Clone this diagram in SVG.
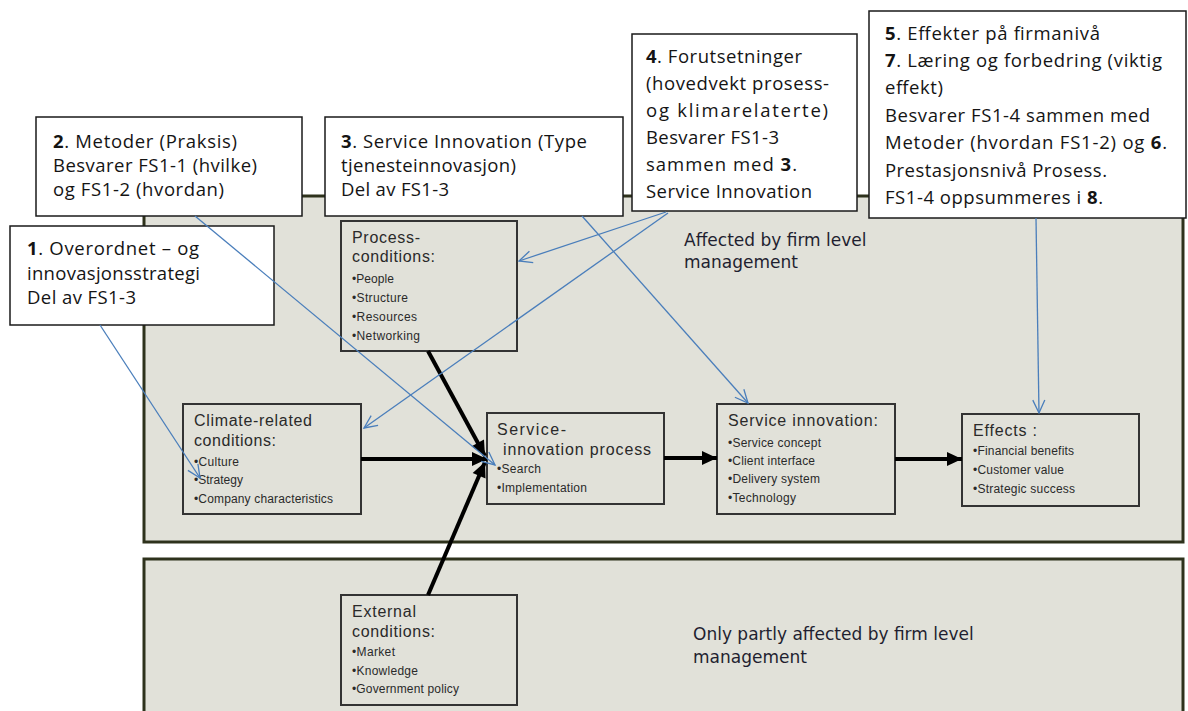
<svg xmlns="http://www.w3.org/2000/svg" width="1188" height="711" viewBox="0 0 1188 711">
  <style>
    .panel { fill: #e1e1d9; stroke: #2e321c; stroke-width: 3; }
    .node { fill: #e1e1d9; stroke: #333333; stroke-width: 2; }
    .callout { fill: #ffffff; stroke: #1a1a1a; stroke-width: 1.5; }
    .ct { font-family: "Open Sans", "Liberation Sans", sans-serif; font-size: 18.5px; fill: #141414; }
    .b { font-weight: bold; }
    .title { font-family: "Liberation Sans", Arial, sans-serif; font-size: 16px; fill: #2a2a2a; }
    .item { font-family: "Liberation Sans", Arial, sans-serif; font-size: 12px; fill: #2a2a2a; }
    .zone { font-family: "DejaVu Sans", Verdana, sans-serif; font-size: 17px; fill: #1f1f30; }
    .thick { stroke: #000000; stroke-width: 4; fill: none; }
    .thin { stroke: #4a7ebb; stroke-width: 1.3; fill: none; }
  </style>
  <defs>
    <marker id="solid" markerUnits="userSpaceOnUse" markerWidth="16" markerHeight="14" refX="15" refY="7" orient="auto" overflow="visible">
      <path d="M0,0 L15,7 L0,14 z" fill="#000000"/>
    </marker>
    <marker id="open" markerUnits="userSpaceOnUse" markerWidth="14" markerHeight="12" refX="13" refY="6" orient="auto" overflow="visible">
      <path d="M0,0 L13,6 L0,12" fill="none" stroke="#4a7ebb" stroke-width="1.3"/>
    </marker>
  </defs>

  <rect width="1188" height="711" fill="#ffffff"/>

  <!-- zones -->
  <g id="zone-firm">
    <rect class="panel" x="144" y="196" width="1039" height="346"/>
    <text class="zone" x="684" y="246">Affected by firm level</text>
    <text class="zone" x="684" y="268">management</text>
  </g>
  <g id="zone-partly">
    <rect class="panel" x="144" y="559" width="1039" height="170"/>
    <text class="zone" x="693" y="640">Only partly affected by firm level</text>
    <text class="zone" x="693" y="663">management</text>
  </g>

  <!-- model nodes -->
  <g id="process-conditions">
    <rect class="node" x="341" y="221" width="176" height="130"/>
    <text class="title" x="352" y="243" textLength="68" lengthAdjust="spacing">Process-</text>
    <text class="title" x="352" y="262" textLength="83" lengthAdjust="spacing">conditions:</text>
    <text class="item" x="352" y="283" textLength="42" lengthAdjust="spacing">•People</text>
    <text class="item" x="352" y="302" textLength="56" lengthAdjust="spacing">•Structure</text>
    <text class="item" x="352" y="321" textLength="65" lengthAdjust="spacing">•Resources</text>
    <text class="item" x="352" y="340" textLength="68" lengthAdjust="spacing">•Networking</text>
  </g>
  <g id="climate-conditions">
    <rect class="node" x="183" y="404" width="178" height="110"/>
    <text class="title" x="194" y="426" textLength="118" lengthAdjust="spacing">Climate-related</text>
    <text class="title" x="194" y="446" textLength="82" lengthAdjust="spacing">conditions:</text>
    <text class="item" x="194" y="466" textLength="45" lengthAdjust="spacing">•Culture</text>
    <text class="item" x="194" y="484" textLength="49" lengthAdjust="spacing">•Strategy</text>
    <text class="item" x="194" y="503" textLength="139" lengthAdjust="spacing">•Company characteristics</text>
  </g>
  <g id="innovation-process">
    <rect class="node" x="487" y="413" width="177" height="91"/>
    <text class="title" x="497" y="435" textLength="69" lengthAdjust="spacing">Service-</text>
    <text class="title" x="503" y="455" textLength="148" lengthAdjust="spacing">innovation process</text>
    <text class="item" x="497" y="473" textLength="44" lengthAdjust="spacing">•Search</text>
    <text class="item" x="497" y="492" textLength="90" lengthAdjust="spacing">•Implementation</text>
  </g>
  <g id="service-innovation">
    <rect class="node" x="717" y="404" width="178" height="110"/>
    <text class="title" x="728" y="426" textLength="150" lengthAdjust="spacing">Service innovation:</text>
    <text class="item" x="728" y="447" textLength="93" lengthAdjust="spacing">•Service concept</text>
    <text class="item" x="728" y="465" textLength="87" lengthAdjust="spacing">•Client interface</text>
    <text class="item" x="728" y="483" textLength="92" lengthAdjust="spacing">•Delivery system</text>
    <text class="item" x="728" y="502" textLength="68" lengthAdjust="spacing">•Technology</text>
  </g>
  <g id="effects">
    <rect class="node" x="962" y="414" width="177" height="92"/>
    <text class="title" x="973" y="436" textLength="64" lengthAdjust="spacing">Effects :</text>
    <text class="item" x="973" y="455" textLength="101" lengthAdjust="spacing">•Financial benefits</text>
    <text class="item" x="973" y="474" textLength="91" lengthAdjust="spacing">•Customer value</text>
    <text class="item" x="973" y="493" textLength="102" lengthAdjust="spacing">•Strategic success</text>
  </g>
  <g id="external-conditions">
    <rect class="node" x="341" y="595" width="176" height="110"/>
    <text class="title" x="352" y="617" textLength="64" lengthAdjust="spacing">External</text>
    <text class="title" x="352" y="637" textLength="83" lengthAdjust="spacing">conditions:</text>
    <text class="item" x="352" y="656" textLength="43" lengthAdjust="spacing">•Market</text>
    <text class="item" x="352" y="675" textLength="66" lengthAdjust="spacing">•Knowledge</text>
    <text class="item" x="352" y="693" textLength="107" lengthAdjust="spacing">•Government policy</text>
  </g>

  <!-- flow arrows of the model -->
  <g id="flow">
    <line class="thick" x1="361" y1="459" x2="487" y2="459" marker-end="url(#solid)"/>
    <line class="thick" x1="428" y1="351" x2="485" y2="456" marker-end="url(#solid)"/>
    <line class="thick" x1="428" y1="595" x2="485" y2="462" marker-end="url(#solid)"/>
    <line class="thick" x1="664" y1="458" x2="717" y2="458" marker-end="url(#solid)"/>
    <line class="thick" x1="895" y1="459" x2="924" y2="459" stroke-width="4.5"/>
    <line class="thick" x1="922" y1="459" x2="962" y2="459" stroke-width="3" marker-end="url(#solid)"/>
  </g>

  <!-- annotation callouts -->
  <g id="note-2">
    <rect class="callout" x="36" y="117" width="266" height="99"/>
    <text class="ct" x="53" y="148" textLength="184" lengthAdjust="spacing"><tspan class="b">2</tspan>. Metoder (Praksis)</text>
    <text class="ct" x="53" y="172" textLength="204" lengthAdjust="spacing">Besvarer FS1-1 (hvilke)</text>
    <text class="ct" x="53" y="196" textLength="171" lengthAdjust="spacing">og FS1-2 (hvordan)</text>
  </g>
  <g id="note-1">
    <rect class="callout" x="10" y="226" width="264" height="99"/>
    <text class="ct" x="27" y="255" textLength="172" lengthAdjust="spacing"><tspan class="b">1</tspan>. Overordnet – og</text>
    <text class="ct" x="27" y="280" textLength="173" lengthAdjust="spacing">innovasjonsstrategi</text>
    <text class="ct" x="27" y="304" textLength="109" lengthAdjust="spacing">Del av FS1-3</text>
  </g>
  <g id="note-3">
    <rect class="callout" x="325" y="117" width="298" height="99"/>
    <text class="ct" x="341" y="148" textLength="246" lengthAdjust="spacing"><tspan class="b">3</tspan>. Service Innovation (Type</text>
    <text class="ct" x="341" y="172" textLength="175" lengthAdjust="spacing">tjenesteinnovasjon)</text>
    <text class="ct" x="341" y="196" textLength="108" lengthAdjust="spacing">Del av FS1-3</text>
  </g>
  <g id="note-4">
    <rect class="callout" x="632" y="34" width="225" height="177"/>
    <text class="ct" x="646" y="63" textLength="156" lengthAdjust="spacing"><tspan class="b">4</tspan>. Forutsetninger</text>
    <text class="ct" x="646" y="90" textLength="183" lengthAdjust="spacing">(hovedvekt  prosess-</text>
    <text class="ct" x="646" y="117" textLength="182" lengthAdjust="spacing">og klimarelaterte)</text>
    <text class="ct" x="646" y="144" textLength="133" lengthAdjust="spacing">Besvarer FS1-3</text>
    <text class="ct" x="646" y="171" textLength="151" lengthAdjust="spacing">sammen med <tspan class="b">3</tspan>.</text>
    <text class="ct" x="646" y="198" textLength="166" lengthAdjust="spacing">Service Innovation</text>
  </g>
  <g id="note-5">
    <rect class="callout" x="869" y="11" width="317" height="207"/>
    <text class="ct" x="885" y="40" textLength="215" lengthAdjust="spacing"><tspan class="b">5</tspan>. Effekter på firmanivå</text>
    <text class="ct" x="885" y="67" textLength="277" lengthAdjust="spacing"><tspan class="b">7</tspan>. Læring og forbedring (viktig</text>
    <text class="ct" x="885" y="94" textLength="58" lengthAdjust="spacing">effekt)</text>
    <text class="ct" x="885" y="122" textLength="265" lengthAdjust="spacing">Besvarer FS1-4 sammen med</text>
    <text class="ct" x="885" y="149" textLength="282" lengthAdjust="spacing">Metoder (hvordan FS1-2) og <tspan class="b">6</tspan>.</text>
    <text class="ct" x="885" y="177" textLength="222" lengthAdjust="spacing">Prestasjonsnivå  Prosess.</text>
    <text class="ct" x="885" y="204" textLength="218" lengthAdjust="spacing">FS1-4 oppsummeres i <tspan class="b">8</tspan>.</text>
  </g>

  <!-- annotation pointers -->
  <g id="pointers">
    <line class="thin" x1="100" y1="325" x2="200" y2="478" marker-end="url(#open)"/>
    <line class="thin" x1="195" y1="216" x2="495" y2="465" marker-end="url(#open)"/>
    <line class="thin" x1="582" y1="216" x2="748" y2="403" marker-end="url(#open)"/>
    <line class="thin" x1="666" y1="212" x2="519" y2="261" marker-end="url(#open)"/>
    <line class="thin" x1="668" y1="213" x2="364" y2="428" marker-end="url(#open)"/>
    <line class="thin" x1="1036" y1="218" x2="1039" y2="413" marker-end="url(#open)"/>
  </g>
</svg>
